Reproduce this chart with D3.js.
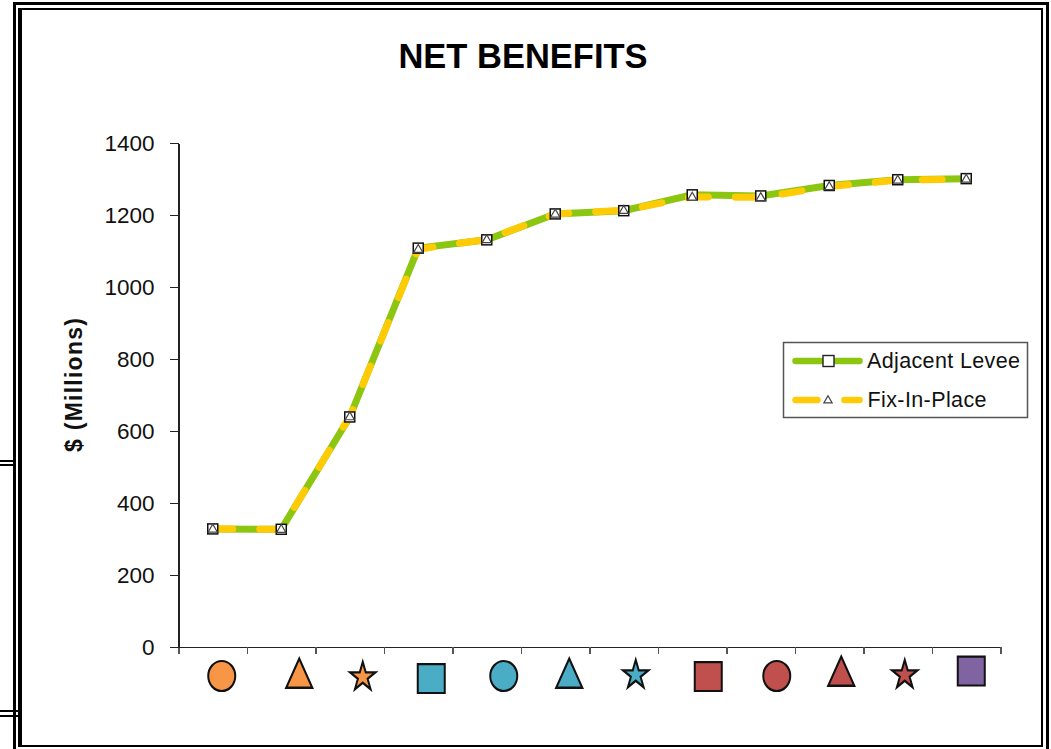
<!DOCTYPE html>
<html>
<head>
<meta charset="utf-8">
<script src="https://cdn.jsdelivr.net/npm/d3@7"></script>
<style>
  html, body { margin: 0; padding: 0; background: #fff; }
  svg { display: block; }
  text { font-family: "Liberation Sans", Arial, sans-serif; fill: #111; }
  .axis path, .axis line { stroke: #222; stroke-width: 1.5; shape-rendering: crispEdges; }
  .x-axis line { stroke: #555; stroke-width: 1.2; }
  .frame { stroke: #000; fill: none; shape-rendering: crispEdges; }
</style>
</head>
<body>
<div id="chart"></div>
<script>
// Values in $ millions, one per alternative
const alternatives = ["A1", "A2", "A3", "A4", "A5", "A6", "A7", "A8", "A9", "A10", "A11", "A12"];
const adjacentLevee = [328, 327, 639, 1108, 1131, 1203, 1212, 1256, 1253, 1282, 1298, 1301];
const fixInPlace = [328, 327, 640, 1105, 1132, 1203, 1213, 1250, 1249, 1279, 1297, 1300];
const yTicks = [0, 200, 400, 600, 800, 1000, 1200, 1400];

// Pictograms under the axis
const shapes = ["circle", "triangle", "star", "square", "circle", "triangle", "star", "square", "circle", "triangle", "star", "square"];
const shapeColors = ["orange", "orange", "orange", "teal", "teal", "teal", "teal", "red", "red", "red", "red", "purple"];

const width = 1051, height = 749;
const margin = { top: 143, left: 178.5, right: 50.5, bottom: 102 };

const palette = { orange: "#f79646", teal: "#4bacc6", red: "#c0504d", purple: "#8064a2" };
const green = "#8cc610", yellow = "#ffcb05";

const svg = d3.select("#chart").append("svg")
  .attr("width", width)
  .attr("height", height);

// Double page border
const frame = svg.append("g").attr("class", "frame");
frame.append("path").attr("stroke-width", 3).attr("d", "M14,749V3.5H1047.5V749");
frame.append("path").attr("stroke-width", 2).attr("d", "M18.5,747V9H1041.5V746H18.5");
frame.append("path").attr("stroke-width", 1.5).attr("d", "M21,9V746");
frame.append("path").attr("stroke-width", 1.5).attr("d", "M0,461H14M0,465H14M0,711H18M0,716H18");

const x = d3.scaleBand()
  .domain(alternatives)
  .range([margin.left, width - margin.right]);

const y = d3.scaleLinear()
  .domain([0, 1400])
  .range([height - margin.bottom, margin.top]);

// Axis ticks sit between the categories, so they come from a plain count scale
const xEdges = d3.scaleLinear()
  .domain([0, alternatives.length])
  .range(x.range());

svg.append("g")
  .attr("class", "axis x-axis")
  .attr("transform", `translate(0,${y(0)})`)
  .call(d3.axisBottom(xEdges).ticks(alternatives.length).tickSize(7).tickSizeOuter(7).tickFormat(""));

const yAxis = svg.append("g")
  .attr("class", "axis")
  .attr("transform", `translate(${margin.left},0)`)
  .call(d3.axisLeft(y).tickValues(yTicks).tickSize(9).tickSizeOuter(0).tickFormat(d3.format("d")));

yAxis.selectAll("text")
  .attr("x", -24)
  .attr("font-size", 22.5)
  .attr("dy", "0.34em");

// Titles
svg.append("text")
  .attr("x", 523)
  .attr("y", 68)
  .attr("text-anchor", "middle")
  .attr("font-size", 34.5)
  .attr("font-weight", "bold")
  .style("fill", "#000")
  .text("NET BENEFITS");

svg.append("text")
  .attr("transform", "translate(82,385) rotate(-90)")
  .attr("text-anchor", "middle")
  .attr("font-size", 23)
  .attr("font-weight", "bold")
  .attr("textLength", 134)
  .text("$ (Millions)");

// Series lines, green solid with dashed yellow on top
const line = d3.line()
  .x((d, i) => x(alternatives[i]) + x.bandwidth() / 2)
  .y(d => y(d));

svg.append("path")
  .datum(adjacentLevee)
  .attr("d", line)
  .attr("fill", "none")
  .attr("stroke", green)
  .attr("stroke-width", 7);

svg.append("path")
  .datum(fixInPlace)
  .attr("d", line)
  .attr("fill", "none")
  .attr("stroke", yellow)
  .attr("stroke-width", 7)
  .attr("stroke-linecap", "round")
  .attr("stroke-dasharray", "20,27");

// Point markers
svg.selectAll(".levee-pt")
  .data(adjacentLevee)
  .join("rect")
  .attr("class", "levee-pt")
  .attr("x", (d, i) => x(alternatives[i]) + x.bandwidth() / 2 - 5)
  .attr("y", d => y(d) - 5)
  .attr("width", 10)
  .attr("height", 10)
  .attr("fill", "#fff")
  .attr("stroke", "#111")
  .attr("stroke-width", 1.5);

const triangle = d3.symbol().type(d3.symbolTriangle).size(36);

svg.selectAll(".fix-pt")
  .data(fixInPlace)
  .join("path")
  .attr("class", "fix-pt")
  .attr("d", triangle)
  .attr("transform", (d, i) => `translate(${x(alternatives[i]) + x.bandwidth() / 2},${y(d) + 0.5})`)
  .attr("fill", "#fff")
  .attr("stroke", "#444")
  .attr("stroke-width", 1.2);

// Hand-placed pictogram row, nudged off the band centres
const rowY = y(0) + 29;
const nudgeX = [9, 18, 13, 13, 17, 14, 12, 16, 16, 12, 7, 5];
const nudgeY = [0, 2, 1, 2.5, 0, 2, -1, 0.5, 0, 0, -1, -5];

const symbolFor = {
  circle: { type: d3.symbolCircle, size: 573, sy: 1.11 },
  square: { type: d3.symbolSquare, size: 729, sy: 1.07 },
  triangle: { type: d3.symbolTriangle, size: 293, sy: 1.29 },
  star: { type: d3.symbolStar, size: 200, sy: 1.13 }
};

svg.selectAll(".pictogram")
  .data(shapes)
  .join("path")
  .attr("class", "pictogram")
  .attr("d", d => d3.symbol().type(symbolFor[d].type).size(symbolFor[d].size)())
  .attr("transform", (d, i) => {
    const cx = x(alternatives[i]) + x.bandwidth() / 2 + nudgeX[i];
    return `translate(${cx},${rowY + nudgeY[i]}) scale(1,${symbolFor[d].sy})`;
  })
  .attr("fill", (d, i) => palette[shapeColors[i]])
  .attr("stroke", "#111")
  .attr("stroke-width", 2)
  .attr("stroke-linejoin", "miter");

// Legend
const legend = svg.append("g").attr("transform", "translate(783.5,342.5)");

legend.append("rect")
  .attr("width", 244)
  .attr("height", 75)
  .attr("fill", "#fff")
  .attr("stroke", "#555")
  .attr("stroke-width", 1.5);

legend.append("line")
  .attr("x1", 12).attr("x2", 76)
  .attr("y1", 18.5).attr("y2", 18.5)
  .attr("stroke", green)
  .attr("stroke-width", 6.5)
  .attr("stroke-linecap", "round");

legend.append("rect")
  .attr("x", 39.5).attr("y", 13)
  .attr("width", 11).attr("height", 11)
  .attr("fill", "#fff")
  .attr("stroke", "#222")
  .attr("stroke-width", 1.4);

legend.append("line")
  .attr("x1", 12).attr("x2", 76)
  .attr("y1", 57.5).attr("y2", 57.5)
  .attr("stroke", yellow)
  .attr("stroke-width", 6.5)
  .attr("stroke-linecap", "round")
  .attr("stroke-dasharray", "22,27");

legend.append("path")
  .attr("d", d3.symbol().type(d3.symbolTriangle).size(30))
  .attr("transform", "translate(44.5,58)")
  .attr("fill", "#fff")
  .attr("stroke", "#444")
  .attr("stroke-width", 1.2);

legend.append("text")
  .attr("x", 83.5)
  .attr("y", 25)
  .attr("font-size", 21.5)
  .attr("textLength", 153)
  .text("Adjacent Levee");

legend.append("text")
  .attr("x", 84)
  .attr("y", 64)
  .attr("font-size", 21.5)
  .attr("textLength", 119)
  .text("Fix-In-Place");
</script>
</body>
</html>
